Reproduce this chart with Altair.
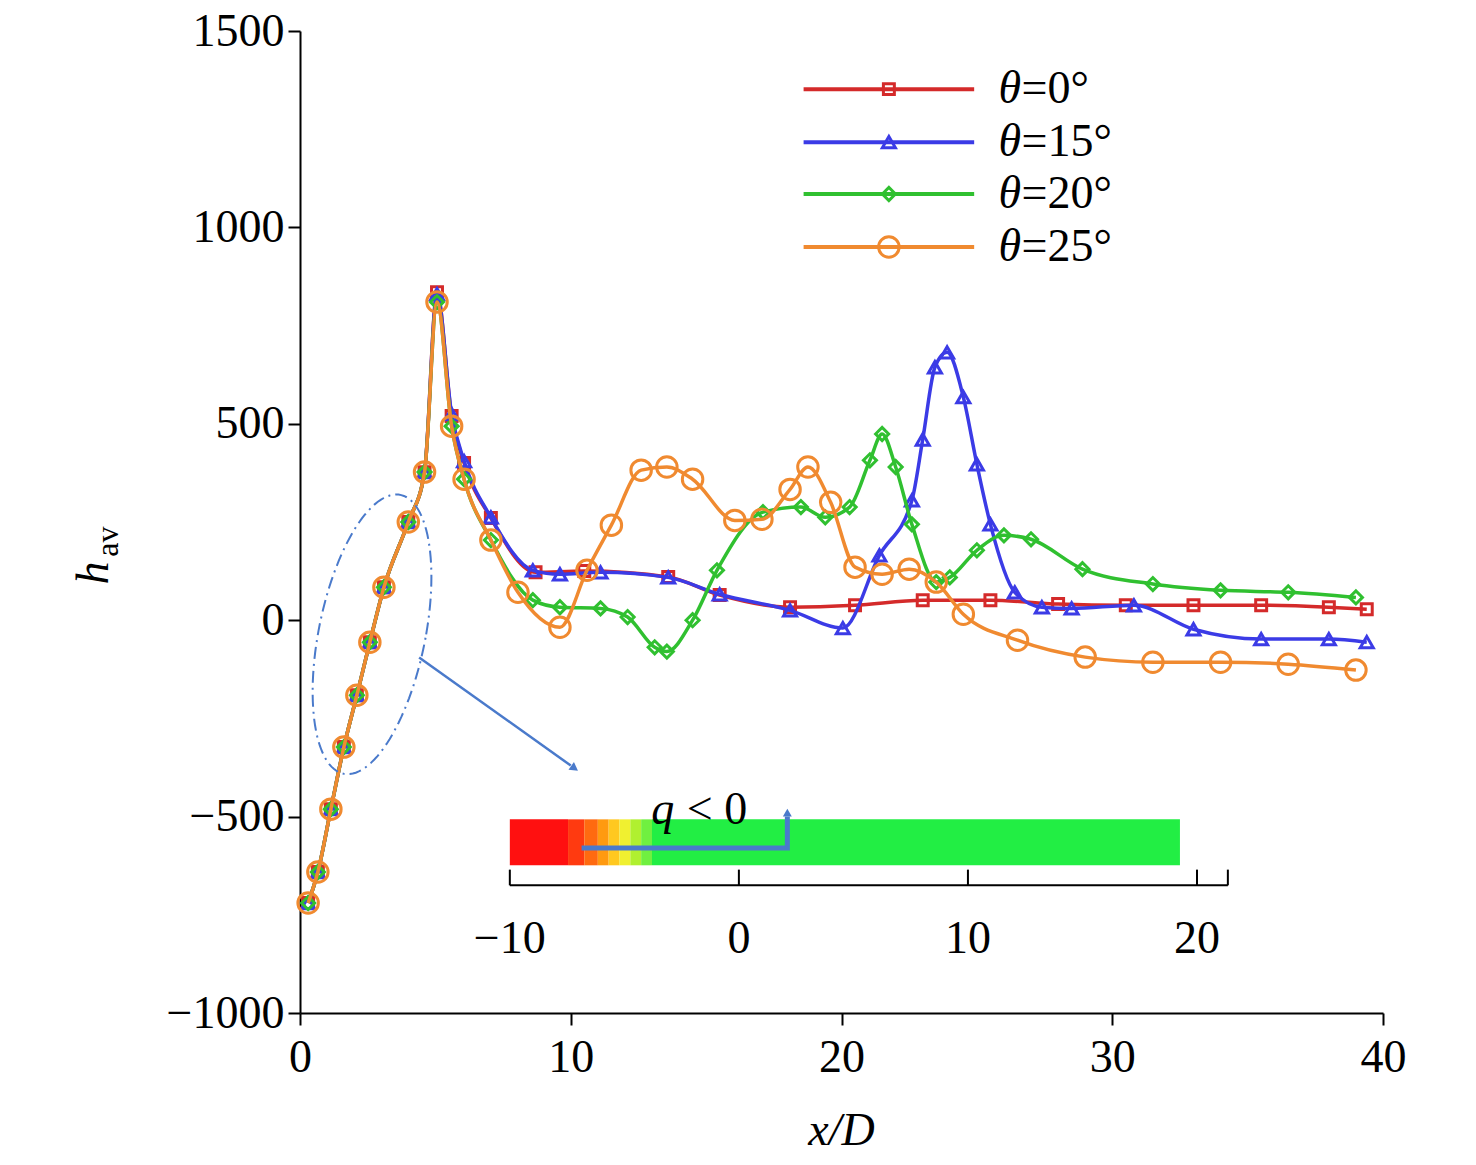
import altair as alt
import pandas as pd
import numpy as np

rise_x = [0.3, 0.66, 1.14, 1.62, 2.1, 2.58, 3.1, 4.0, 4.6, 5.06, 5.6, 6.06, 7.05]
rise_y = [-720, -641, -481, -323, -191, -56, 84, 250, 377, 810, 494, 359, 204]

red_x = rise_x + [8.7, 10.5, 13.6, 15.5, 18.1, 20.5, 23, 25.5, 28, 30.5, 33, 35.5, 38, 39.4]
red_y = rise_y[:9] + [835, 520, 400, 260] + [122, 125, 110, 64, 33, 38, 51, 51, 41, 38, 38, 38, 33, 28]
blue_x = rise_x + [8.6, 9.6, 11.1, 13.6, 15.5, 18.1, 20.05, 21.4, 22.6, 23.0, 23.45, 23.9, 24.5, 25.0, 25.5, 26.4, 27.4, 28.5, 30.8, 33, 35.5, 38, 39.4]
blue_y = rise_y[:9] + [830, 525, 405, 262] + [127, 117, 122, 109, 66, 25, -20, 165, 305, 460, 644, 682, 568, 397, 244, 71, 33, 30, 38, -23, -48, -48, -56]
green_x = rise_x + [8.6, 9.6, 11.1, 12.1, 13.1, 13.55, 14.5, 15.4, 17.1, 18.5, 19.4, 20.3, 21.05, 21.5, 22.0, 22.6, 23.5, 24.0, 25.0, 26.0, 27.0, 28.9, 31.5, 34, 36.5, 39]
green_y = rise_y + [51, 33, 30, 8, -69, -80, 0, 127, 275, 288, 262, 288, 407, 474, 390, 244, 97, 109, 178, 216, 206, 130, 92, 76, 71, 58]
orange_x = rise_x + [8.05, 9.6, 10.6, 11.5, 12.6, 13.55, 14.5, 16.06, 17.06, 18.1, 18.76, 19.6, 20.5, 21.5, 22.5, 23.5, 24.5, 26.5, 29, 31.5, 34, 36.5, 39]
orange_y = rise_y + [71, -18, 127, 242, 382, 390, 359, 254, 257, 333, 390, 300, 135, 117, 130, 97, 15, -51, -94, -107, -107, -112, -127]

labels = ["=0°", "=15°", "=20°", "=25°"]
colors = ["#d42a2a", "#3b3be6", "#30c030", "#f08a30"]
shapes = ["square", "triangle-up", "diamond", "circle"]
sizes = [120, 170, 170, 420]

X = alt.Scale(domain=[0, 40], nice=False)
Y = alt.Scale(domain=[-1000, 1500], nice=False)
FONT = "Liberation Serif"
axis_kw = dict(title=None, grid=False, labelFont=FONT, labelFontSize=46, labelColor="black", labelFlush=False,
               tickSize=12, tickWidth=2, domainWidth=2, domainColor="black", tickColor="black", format="d")

layers = []
series = [(red_x, red_y), (blue_x, blue_y), (green_x, green_y), (orange_x, orange_y)]
for (xs, ys), c, sh, sz in zip(series, colors, shapes, sizes):
    df = pd.DataFrame({"x": xs, "y": ys})
    base = alt.Chart(df)
    layers.append(base.mark_line(color=c, strokeWidth=3.5, interpolate="monotone").encode(
        x=alt.X("x:Q", scale=X, axis=alt.Axis(values=[0, 10, 20, 30, 40], labelPadding=10, **axis_kw)),
        y=alt.Y("y:Q", scale=Y, axis=alt.Axis(values=[-1000, -500, 0, 500, 1000, 1500], labelPadding=4, **axis_kw))))
    layers.append(base.mark_point(shape=sh, size=sz, color=c, strokeWidth=3, opacity=1, filled=False).encode(x="x:Q", y="y:Q"))

# legend
leg_y = [1352, 1217, 1085, 950]
for ly, lab, c, sh, sz in zip(leg_y, labels, colors, shapes, sizes):
    d = pd.DataFrame({"x": [18.6, 24.9], "y": [ly, ly]})
    layers.append(alt.Chart(d).mark_line(color=c, strokeWidth=4).encode(x="x:Q", y="y:Q"))
    layers.append(alt.Chart(pd.DataFrame({"x": [21.75], "y": [ly]})).mark_point(
        shape=sh, size=sz, color=c, strokeWidth=3, opacity=1).encode(x="x:Q", y="y:Q"))
    layers.append(alt.Chart(pd.DataFrame({"x": [25.8], "y": [ly], "t": ["θ"]})).mark_text(
        align="left", baseline="middle", font=FONT, fontSize=46, fontStyle="italic").encode(
        x="x:Q", y="y:Q", text="t:N"))
    layers.append(alt.Chart(pd.DataFrame({"x": [26.65], "y": [ly], "t": [lab]})).mark_text(
        align="left", baseline="middle", font=FONT, fontSize=46).encode(
        x="x:Q", y="y:Q", text="t:N"))

# inset contour strip
strip_x = [7.75, 9.9, 10.5, 11.0, 11.4, 11.8, 12.2, 12.6, 13.0]
strip_c = ["#ff1010", "#ff3a10", "#ff6a10", "#ff9a10", "#ffc820", "#f0f030", "#b0f030", "#70f040"]
strips = pd.DataFrame({"x": strip_x[:-1], "x2": strip_x[1:], "c": strip_c})
layers.append(alt.Chart(strips).mark_rect().encode(
    x="x:Q", x2="x2", y=alt.datum(-507), y2=alt.datum(-624), color=alt.Color("c:N", scale=None)))
layers.append(alt.Chart(pd.DataFrame({"x": [13.0], "x2": [32.5]})).mark_rect(color="#22ee44").encode(
    x="x:Q", x2="x2", y=alt.datum(-507), y2=alt.datum(-624)))
# flow arrow
layers.append(alt.Chart(pd.DataFrame({"x": [10.4, 18.0, 18.0], "y": [-580, -580, -500], "o": [0, 1, 2]})).mark_line(
    color="#4a7acb", strokeWidth=5).encode(x="x:Q", y="y:Q", order="o:Q"))
layers.append(alt.Chart(pd.DataFrame({"x": [18.0], "y": [-490]})).mark_point(
    shape="triangle-up", size=80, filled=True, color="#4a7acb", opacity=1).encode(x="x:Q", y="y:Q"))
layers.append(alt.Chart(pd.DataFrame({"x": [13.4], "y": [-484], "t": ["q"]})).mark_text(
    font=FONT, fontSize=46, baseline="middle", fontStyle="italic").encode(x="x:Q", y="y:Q", text="t:N"))
layers.append(alt.Chart(pd.DataFrame({"x": [15.4], "y": [-484], "t": ["< 0"]})).mark_text(
    font=FONT, fontSize=46, baseline="middle").encode(x="x:Q", y="y:Q", text="t:N"))
# inset axis
inset_ticks = [-10, 0, 10, 20]
tx = [7.75 + (t + 10) * 0.846 for t in inset_ticks]
layers.append(alt.Chart(pd.DataFrame({"x": [7.75], "x2": [34.27]})).mark_rule(color="black", strokeWidth=2).encode(
    x="x:Q", x2="x2", y=alt.datum(-675)))
ax = pd.DataFrame({"x": tx, "t": ["−10", "0", "10", "20"]})
layers.append(alt.Chart(ax).mark_rule(color="black", strokeWidth=2).encode(x="x:Q", y=alt.datum(-675), y2=alt.datum(-635)))
layers.append(alt.Chart(pd.DataFrame({"x": [34.27]})).mark_rule(color="black", strokeWidth=2).encode(x="x:Q", y=alt.datum(-675), y2=alt.datum(-635)))
layers.append(alt.Chart(ax).mark_text(font=FONT, fontSize=46, baseline="middle").encode(
    x="x:Q", y=alt.datum(-812), text="t:N"))
# blue pointer arrow
layers.append(alt.Chart(pd.DataFrame({"x": [4.4, 10.0], "y": [-95, -370]})).mark_line(
    color="#4a7acb", strokeWidth=2.5).encode(x="x:Q", y="y:Q"))
layers.append(alt.Chart(pd.DataFrame({"x": [10.1], "y": [-375]})).mark_point(
    shape="triangle", angle=125, size=90, filled=True, color="#4a7acb", opacity=1).encode(x="x:Q", y="y:Q"))
# dash-dot ellipse (annotation)
t = np.linspace(0, 2 * np.pi, 120)
ex = 2.66 + 2.0 * np.cos(t) + 0.9 * np.sin(t)
ey = -36 + 356 * np.sin(t)
ell = pd.DataFrame({"x": ex, "y": ey, "o": np.arange(len(t))})
layers.append(alt.Chart(ell).mark_line(color="#4a7acb", strokeWidth=2, strokeDash=[12, 5, 2, 5]).encode(
    x="x:Q", y="y:Q", order="o:Q"))
# axis titles
layers.append(alt.Chart(pd.DataFrame({"x": [20], "y": [-1300], "t": ["x/D"]})).mark_text(
    font=FONT, fontSize=46, fontStyle="italic").encode(x="x:Q", y="y:Q", text="t:N"))
layers.append(alt.Chart(pd.DataFrame({"x": [-7.6], "y": [120], "t": ["h"]})).mark_text(
    font=FONT, fontSize=46, fontStyle="italic", angle=270).encode(x="x:Q", y="y:Q", text="t:N"))
layers.append(alt.Chart(pd.DataFrame({"x": [-7.1], "y": [200], "t": ["av"]})).mark_text(
    font=FONT, fontSize=32, angle=270).encode(x="x:Q", y="y:Q", text="t:N"))

chart = alt.layer(*layers).properties(width=1083, height=982, padding={"left": 63, "top": 0, "right": 40, "bottom": 0}).configure_view(stroke=None)
chart.save("out.html", embed_options={"renderer": "svg", "actions": False})
